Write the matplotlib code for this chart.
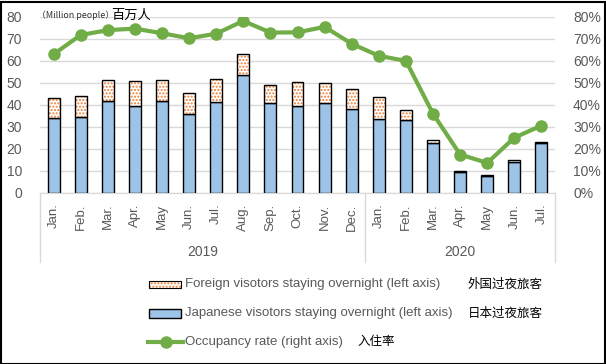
import matplotlib.pyplot as plt
import numpy as np
from matplotlib.patches import Rectangle
from matplotlib.lines import Line2D
from matplotlib.transforms import blended_transform_factory
from matplotlib.ticker import FuncFormatter

# data
months = ['Jan.', 'Feb.', 'Mar.', 'Apr.', 'May', 'Jun.', 'Jul.', 'Aug.', 'Sep.', 'Oct.', 'Nov.', 'Dec.',
          'Jan.', 'Feb.', 'Mar.', 'Apr.', 'May', 'Jun.', 'Jul.']
years = ['2019', '2020']
year_len = [12, 7]
japanese = [33.8, 34.3, 41.6, 39.3, 41.6, 36.0, 41.1, 53.5, 40.6, 39.6, 40.6, 37.9,
            33.7, 32.9, 22.7, 9.4, 7.7, 14.1, 22.5]
foreign = [9.3, 9.6, 9.8, 11.5, 9.8, 9.5, 10.6, 9.7, 8.3, 10.7, 9.3, 9.3,
           9.7, 4.5, 1.3, 0.4, 0.4, 0.5, 0.4]
occupancy = [63.0, 71.8, 74.0, 74.7, 72.6, 70.3, 72.4, 78.2, 72.9, 73.0, 75.5, 67.8,
             62.3, 60.0, 35.9, 17.3, 13.5, 25.0, 30.5]

W, H = 606, 364
blue = '#9DC3E6'
orange = '#ED7D31'
green = '#70AD47'
gray = '#595959'
grid_c = '#D9D9D9'
fam = ['Liberation Sans', 'Noto Sans CJK SC']
cjk = ['Noto Sans CJK SC', 'DejaVu Sans']

plt.rcParams['font.family'] = fam
plt.rcParams['hatch.linewidth'] = 1.0

fig = plt.figure(figsize=(W / 100, H / 100), dpi=100)
ax = fig.add_axes([40 / W, 1 - 192.5 / H, 515 / W, 175.5 / H])

x = np.arange(len(months))
bw = 0.44

ax.bar(x, japanese, width=bw, color=blue, edgecolor='black', linewidth=1, zorder=2)
# foreign bars: orange dots pattern + black outline
ax.bar(x, foreign, width=bw, bottom=japanese, color='white', edgecolor=orange,
       hatch='.....', linewidth=0, zorder=2)
ax.bar(x, foreign, width=bw, bottom=japanese, color='none', edgecolor='black',
       linewidth=1, zorder=3)

ax.set_xlim(-0.5, len(months) - 0.5)
ax.set_ylim(0, 80)
ax.set_yticks(np.arange(0, 81, 10))
ax.yaxis.grid(True, color=grid_c, linewidth=1)
ax.set_axisbelow(True)
for s in ['top', 'left', 'right']:
    ax.spines[s].set_visible(False)
ax.spines['bottom'].set_color(grid_c)
ax.tick_params(axis='y', length=0, pad=13, labelsize=10, labelcolor=gray)
ax.set_xticks(x)
ax.set_xticklabels(months, rotation=90, fontsize=9.5, color=gray)
ax.tick_params(axis='x', length=0, pad=8)

# year groups below the months
trans = blended_transform_factory(ax.transData, ax.transAxes)
edges = np.concatenate([[0], np.cumsum(year_len)]) - 0.5
for e in edges:
    ax.plot([e, e], [0, -0.396], transform=trans, color=grid_c, linewidth=1, clip_on=False)
for i, yr in enumerate(years):
    ax.text((edges[i] + edges[i + 1]) / 2, -0.338, yr, transform=trans, ha='center', va='center',
            fontsize=10, color=gray)

ax2 = ax.twinx()
ax2.plot(x, occupancy, color=green, linewidth=3, marker='o', markersize=8, zorder=4)
ax2.set_ylim(0, 80)
ax2.set_yticks(np.arange(0, 81, 10))
ax2.yaxis.set_major_formatter(FuncFormatter(lambda v, p: f'{v:.0f}%'))
ax2.tick_params(axis='y', length=0, pad=13, labelsize=10, labelcolor=gray)
for s in ax2.spines.values():
    s.set_visible(False)

# unit label
fig.text(37 / W, 1 - 15 / H, '（Million people）', fontsize=6.4, color='#333333',
         ha='left', va='center', family=cjk)
fig.text(111 / W, 1 - 15 / H, '百万人', fontsize=9.5, color='black', ha='left', va='center',
         family=cjk)

# legend
def fx(px):
    return px / W

def fy(py):
    return 1 - py / H

rows = [284, 313, 342]
fig.add_artist(Rectangle((fx(149), fy(rows[0] + 3.5)), 32 / W, 7 / H, transform=fig.transFigure,
                         facecolor='white', edgecolor=orange, hatch='.....', linewidth=0))
fig.add_artist(Rectangle((fx(149), fy(rows[0] + 3.5)), 32 / W, 7 / H, transform=fig.transFigure,
                         facecolor='none', edgecolor='black', linewidth=0.8))
fig.add_artist(Rectangle((fx(149), fy(rows[1] + 4.5)), 32 / W, 9 / H, transform=fig.transFigure,
                         facecolor=blue, edgecolor='black', linewidth=1))
fig.add_artist(Line2D([fx(148), fx(183)], [fy(rows[2]), fy(rows[2])], transform=fig.transFigure,
                      color=green, linewidth=3))
fig.add_artist(Line2D([fx(166)], [fy(rows[2])], transform=fig.transFigure, color=green,
                      marker='o', markersize=8))

labels = ['Foreign visotors staying overnight (left axis)',
          'Japanese visotors staying overnight (left axis)',
          'Occupancy rate (right axis)']
cn_labels = ['外国过夜旅客', '日本过夜旅客', '入住率']
cn_x = [468, 468, 357]
for r, lab, cn, cx in zip(rows, labels, cn_labels, cn_x):
    fig.text(fx(185), fy(r), lab, fontsize=9.5, color=gray, ha='left', va='center')
    fig.text(fx(cx), fy(r), cn, fontsize=9, color='black', ha='left', va='center', family=cjk)

# outer frame
fig.add_artist(Rectangle((0.5 / W, 0.5 / H), 1 - 2 / W, 1 - 2 / H, transform=fig.transFigure,
                         facecolor='none', edgecolor='black', linewidth=1.5))

fig.savefig('out.png', dpi=100)
